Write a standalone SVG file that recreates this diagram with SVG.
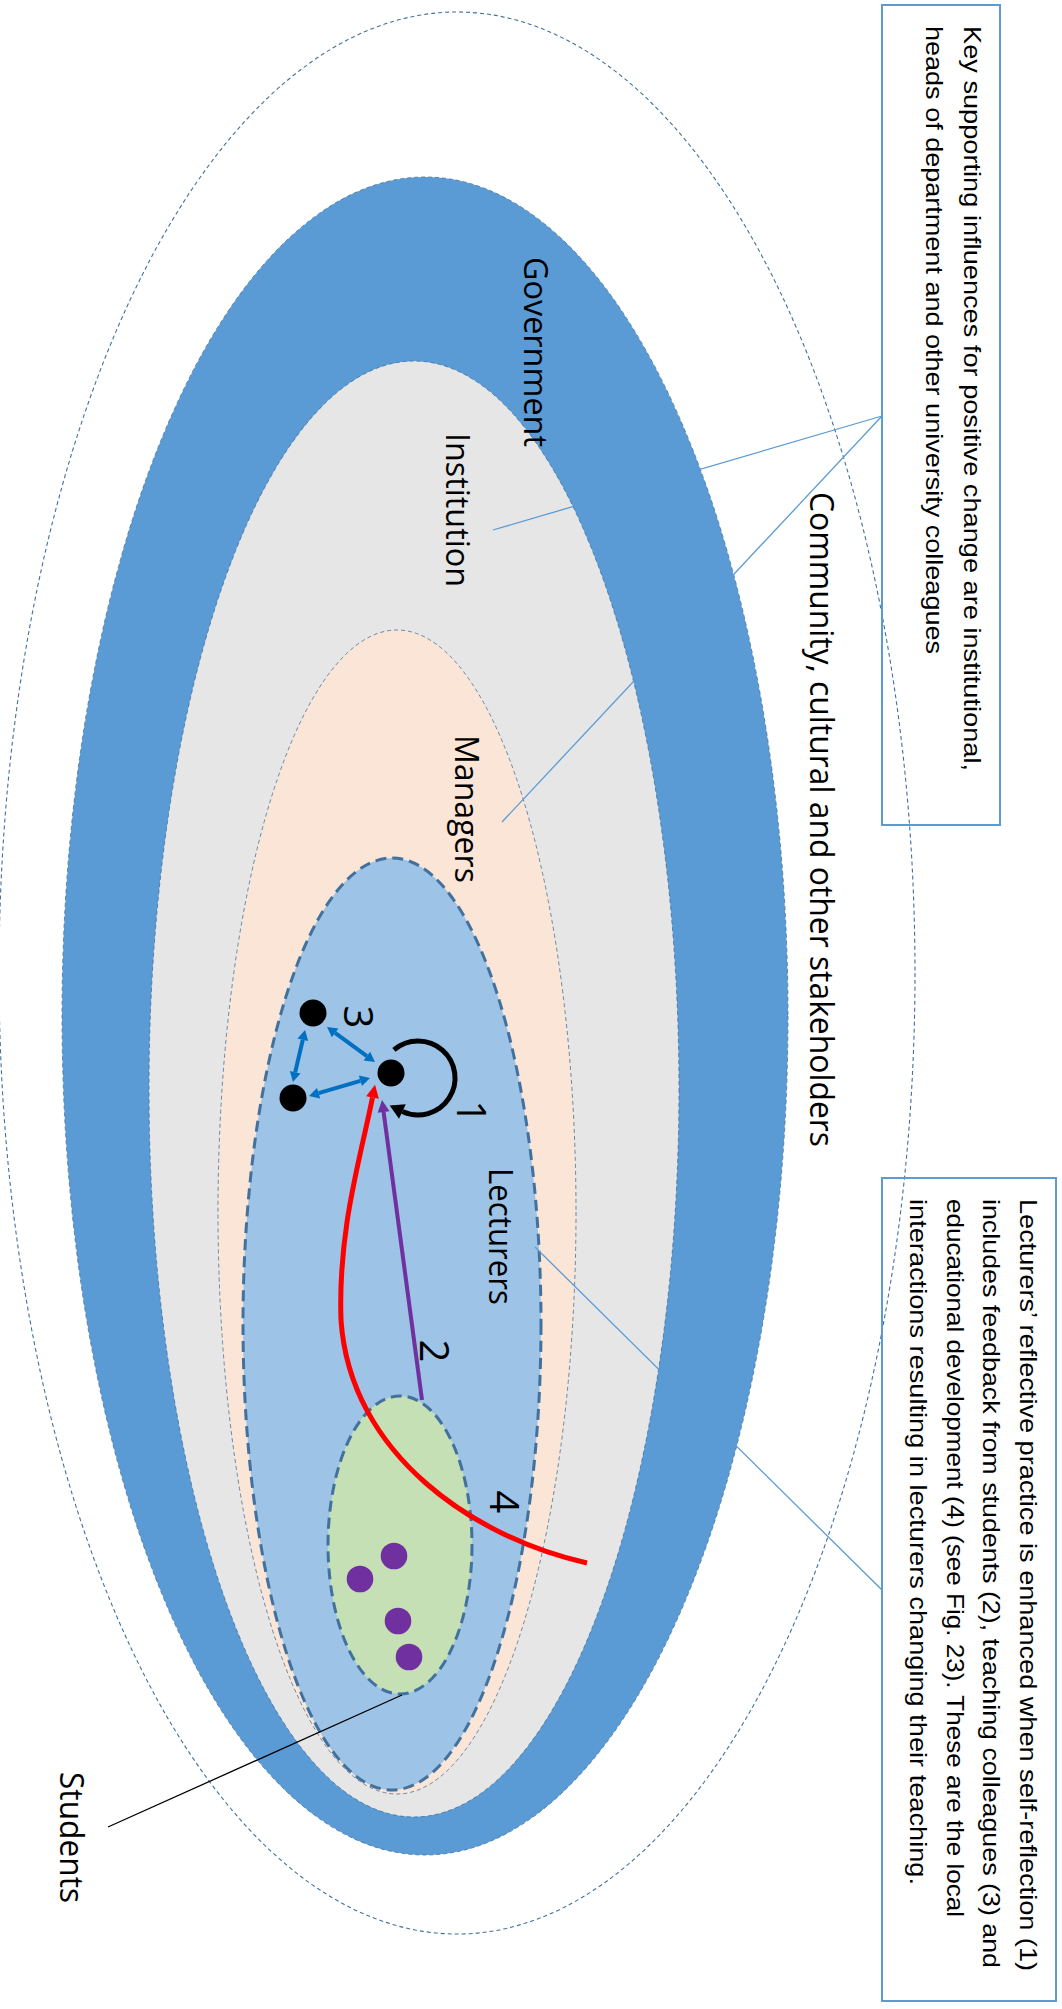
<svg xmlns="http://www.w3.org/2000/svg" width="1062" height="2009" viewBox="0 0 1062 2009">
  <style>
    .ring { stroke: #41719C; stroke-width: 0.8; stroke-dasharray: 4 3; }
    .outer { stroke: #41719C; stroke-width: 1.1; stroke-dasharray: 4 3; }
    .dashed { stroke: #41719C; stroke-width: 3; stroke-dasharray: 11 6; }
    .lbl { font-family: "Open Sans", "DejaVu Sans", sans-serif; font-size: 32px; fill: #000; }
    .num { font-family: "Open Sans", "DejaVu Sans", sans-serif; font-size: 40px; fill: #000; }
    .note { font-family: "Liberation Sans", Arial, sans-serif; font-size: 24px; fill: #000; }
    .callout { stroke: #5B9BD5; stroke-width: 1.3; fill: none; }
    .box { stroke: #5B9BD5; stroke-width: 2; fill: none; }
  </style>
  <defs>
    <marker id="headRed" markerUnits="userSpaceOnUse" markerWidth="14" markerHeight="14" refX="0" refY="6.5" orient="auto" overflow="visible">
      <path d="M0,0 L13,6.5 L0,13 z" fill="#FF0000"/>
    </marker>
    <marker id="headPurple" markerUnits="userSpaceOnUse" markerWidth="14" markerHeight="14" refX="0" refY="6" orient="auto" overflow="visible">
      <path d="M0,0 L12,6 L0,12 z" fill="#7030A0"/>
    </marker>
    <marker id="headBlue" markerUnits="userSpaceOnUse" markerWidth="12" markerHeight="12" refX="0" refY="5.5" orient="auto-start-reverse" overflow="visible">
      <path d="M0,0 L10,5.5 L0,11 z" fill="#0070C0"/>
    </marker>
    <marker id="headBlack" markerUnits="userSpaceOnUse" markerWidth="16" markerHeight="16" refX="0" refY="8" orient="auto" overflow="visible">
      <path d="M0,0 L14,8 L0,16 z" fill="#000"/>
    </marker>
  </defs>

  <!-- nested spheres of influence -->
  <g id="community">
    <ellipse cx="457" cy="973" rx="458" ry="961" fill="none" class="outer"/>
  </g>
  <g id="government">
    <ellipse cx="425" cy="1016" rx="363" ry="839" fill="#5B9BD5" class="ring"/>
  </g>
  <g id="institution">
    <ellipse cx="414" cy="1089" rx="265" ry="728" fill="#E6E6E6" class="ring"/>
  </g>
  <g id="managers">
    <ellipse cx="397" cy="1212" rx="179" ry="582" fill="#FBE5D6" class="ring"/>
  </g>
  <g id="lecturers">
    <ellipse cx="392" cy="1324" rx="149" ry="466" fill="#9DC3E6" class="dashed"/>
  </g>
  <g id="students">
    <ellipse cx="400" cy="1545" rx="72" ry="149" fill="#C5E0B4" class="dashed"/>
    <circle cx="394" cy="1556" r="13.3" fill="#7030A0"/>
    <circle cx="360" cy="1579" r="13.3" fill="#7030A0"/>
    <circle cx="398" cy="1621" r="13.3" fill="#7030A0"/>
    <circle cx="409" cy="1657" r="13.3" fill="#7030A0"/>
  </g>

  <!-- ring labels -->
  <g id="ring-labels">
    <text class="lbl" transform="translate(810,492) rotate(90)" textLength="655" lengthAdjust="spacingAndGlyphs">Community, cultural and other stakeholders</text>
    <text class="lbl" transform="translate(524,257) rotate(90)" textLength="190" lengthAdjust="spacingAndGlyphs">Government</text>
    <text class="lbl" transform="translate(446,433) rotate(90)" textLength="154" lengthAdjust="spacingAndGlyphs">Institution</text>
    <text class="lbl" transform="translate(455,735) rotate(90)" textLength="148" lengthAdjust="spacingAndGlyphs">Managers</text>
    <text class="lbl" transform="translate(489,1168) rotate(90)" textLength="137" lengthAdjust="spacingAndGlyphs">Lecturers</text>
    <text class="lbl" transform="translate(60,1772) rotate(90)" textLength="131" lengthAdjust="spacingAndGlyphs">Students</text>
  </g>

  <!-- callout boxes -->
  <g id="note-supporting">
    <rect x="882" y="5" width="118" height="820" class="box"/>
    <text class="note" transform="translate(964,26) rotate(90)" textLength="745" lengthAdjust="spacingAndGlyphs">Key supporting influences for positive change are institutional,</text>
    <text class="note" transform="translate(926,26) rotate(90)" textLength="628" lengthAdjust="spacingAndGlyphs">heads of department and other university colleagues</text>
  </g>
  <g id="note-reflective">
    <rect x="882" y="1178" width="174" height="823" class="box"/>
    <text class="note" transform="translate(1020,1199) rotate(90)" textLength="772" lengthAdjust="spacingAndGlyphs">Lecturers’ reflective practice is enhanced when self-reflection (1)</text>
    <text class="note" transform="translate(983,1199) rotate(90)" textLength="769" lengthAdjust="spacingAndGlyphs">includes feedback from students (2), teaching colleagues (3) and</text>
    <text class="note" transform="translate(947,1199) rotate(90)" textLength="718" lengthAdjust="spacingAndGlyphs">educational development (4) (see Fig. 23).  These are the local</text>
    <text class="note" transform="translate(910,1199) rotate(90)" textLength="686" lengthAdjust="spacingAndGlyphs">interactions resulting in lecturers changing their teaching.</text>
  </g>

  <!-- lecturer nodes -->
  <g id="lecturer-self">
    <circle cx="391" cy="1073" r="13.5" fill="#000"/>
  </g>
  <g id="colleague-a">
    <circle cx="313" cy="1013" r="13.5" fill="#000"/>
  </g>
  <g id="colleague-b">
    <circle cx="293" cy="1098" r="13.5" fill="#000"/>
  </g>

  <!-- connectors -->
  <g id="connectors" fill="none">
    <line x1="882" y1="416" x2="493" y2="530" class="callout"/>
    <line x1="882" y1="416" x2="502" y2="822" class="callout"/>
    <line x1="882" y1="1590" x2="535" y2="1247" class="callout"/>
    <line x1="108" y1="1827" x2="402" y2="1695" stroke="#000" stroke-width="1.3"/>

    <!-- (4) educational development -->
    <path d="M587,1563 C475,1538 350,1455 341,1320 C338,1230 360,1160 372.5,1097.5" stroke="#FF0000" stroke-width="5" marker-end="url(#headRed)"/>
    <!-- (2) feedback from students -->
    <line x1="422" y1="1400" x2="383.6" y2="1112" stroke="#7030A0" stroke-width="4" marker-end="url(#headPurple)"/>
    <!-- (3) teaching colleagues -->
    <line x1="335.1" y1="1032.9" x2="366.9" y2="1056.1" stroke="#0070C0" stroke-width="4" marker-start="url(#headBlue)" marker-end="url(#headBlue)"/>
    <line x1="302.8" y1="1039.7" x2="295.2" y2="1072.3" stroke="#0070C0" stroke-width="4" marker-start="url(#headBlue)" marker-end="url(#headBlue)"/>
    <line x1="318.6" y1="1093.2" x2="360.4" y2="1080.8" stroke="#0070C0" stroke-width="4" marker-start="url(#headBlue)" marker-end="url(#headBlue)"/>
    <!-- (1) self-reflection loop -->
    <path d="M393.9,1049.9 A37,37 0 1 1 402.4,1111.5" stroke="#000" stroke-width="5" marker-end="url(#headBlack)"/>
  </g>

  <!-- interaction numbers -->
  <g id="numbers">
    <text class="num" text-anchor="middle" transform="translate(457,1112) rotate(90)">1</text>
    <text class="num" text-anchor="middle" transform="translate(420,1351) rotate(90)">2</text>
    <text class="num" text-anchor="middle" transform="translate(344,1017) rotate(90)">3</text>
    <text class="num" text-anchor="middle" transform="translate(490,1502) rotate(90)">4</text>
  </g>
</svg>
